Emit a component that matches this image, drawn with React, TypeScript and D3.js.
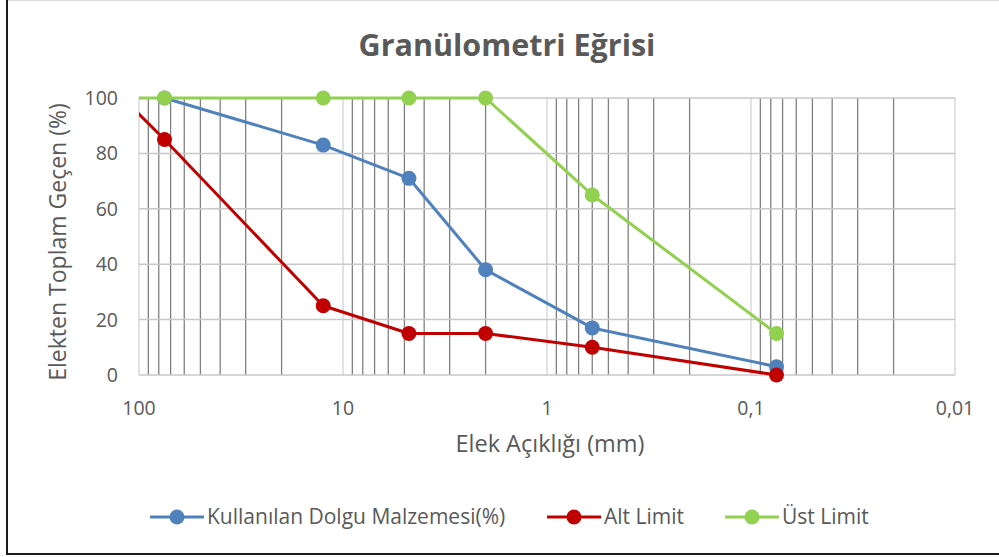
import React, { useRef, useEffect } from 'react'
import * as d3 from 'd3'

// elek açıklığı (mm) - ilk nokta grafiğin dışında kalıyor (kırpılıyor)
const sizes = [120, 75, 12.5, 4.75, 2, 0.6, 0.075]
const kullanilan = [null, 100, 83, 71, 38, 17, 3]
const altLimit = [100, 85, 25, 15, 15, 10, 0]
const ustLimit = [100, 100, 100, 100, 100, 65, 15]

const seriesNames = ['Kullanılan Dolgu Malzemesi(%)', 'Alt Limit', 'Üst Limit']
const seriesColors = ['#4f81bd', '#c00000', '#92d050']

const xTicks = [100, 10, 1, 0.1, 0.01]
const xTickLabels = ['100', '10', '1', '0,1', '0,01']
const yTicks = [0, 20, 40, 60, 80, 100]

export default function App() {
    const svgRef = useRef<SVGSVGElement>(null)
    const width = 999, height = 557
    const font = '"Open Sans", sans-serif'
    const textColor = '#595959'

    useEffect(() => {
        let svg = d3.select(svgRef.current)
        svg.selectAll('*').remove()

        let xScale = d3.scaleLog().domain([100, 0.01]).range([139, 955])
        let yScale = d3.scaleLinear().domain([0, 100]).range([375, 98])

        svg.append('rect').attr('width', width).attr('height', height).attr('fill', 'white')

        // çerçeve
        svg.append('line').attr('x1', 7).attr('x2', width).attr('y1', 0.5).attr('y2', 0.5)
            .attr('stroke', '#d9d9d9').attr('stroke-width', 1)
        svg.append('line').attr('x1', 7).attr('x2', 7).attr('y1', 0).attr('y2', 555)
            .attr('stroke', '#1a1a1a').attr('stroke-width', 2)
        svg.append('line').attr('x1', 6).attr('x2', width).attr('y1', 554).attr('y2', 554)
            .attr('stroke', '#1a1a1a').attr('stroke-width', 2)

        svg.append('text')
            .attr('x', 507).attr('y', 56)
            .attr('text-anchor', 'middle')
            .style('font-family', font).style('font-weight', 'bold').style('font-size', '30.5px')
            .attr('fill', textColor)
            .text('Granülometri Eğrisi')

        let clip = svg.append('clipPath').attr('id', 'plot-clip')
        clip.append('rect').attr('x', 139).attr('y', 90).attr('width', 816).attr('height', 295)

        // ara ızgara çizgileri (koyu)
        let minor = xScale.ticks().filter(d => !xTicks.some(t => Math.abs(t - d) < 1e-9))
        svg.append('g').selectAll('line').data(minor).enter().append('line')
            .attr('x1', d => xScale(d)).attr('x2', d => xScale(d))
            .attr('y1', yScale(0)).attr('y2', yScale(100))
            .attr('stroke', '#808080').attr('stroke-width', 1.3)

        // ana ızgara çizgileri (açık)
        svg.append('g').selectAll('line').data(xTicks).enter().append('line')
            .attr('x1', d => xScale(d)).attr('x2', d => xScale(d))
            .attr('y1', yScale(0)).attr('y2', yScale(100))
            .attr('stroke', '#d9d9d9').attr('stroke-width', 1.5)

        svg.append('g').selectAll('line').data(yTicks).enter().append('line')
            .attr('x1', xScale(100)).attr('x2', xScale(0.01))
            .attr('y1', d => yScale(d)).attr('y2', d => yScale(d))
            .attr('stroke', '#c8c8c8').attr('stroke-width', 1.5)

        svg.append('g').selectAll('text').data(yTicks).enter().append('text')
            .attr('x', 118).attr('y', d => yScale(d) + 7)
            .attr('text-anchor', 'end')
            .style('font-family', font).style('font-size', '19.5px')
            .attr('fill', textColor)
            .text(d => d)

        svg.append('g').selectAll('text').data(xTicks).enter().append('text')
            .attr('x', d => xScale(d)).attr('y', 415)
            .attr('text-anchor', 'middle')
            .style('font-family', font).style('font-size', '19.5px')
            .attr('fill', textColor)
            .text((d, i) => xTickLabels[i])

        svg.append('text')
            .attr('x', 550).attr('y', 452)
            .attr('text-anchor', 'middle')
            .style('font-family', font).style('font-size', '23.5px')
            .attr('fill', textColor)
            .text('Elek Açıklığı (mm)')

        svg.append('text')
            .attr('transform', 'translate(66, 242) rotate(-90)')
            .attr('text-anchor', 'middle')
            .style('font-family', font).style('font-size', '23px')
            .attr('fill', textColor)
            .text('Elekten Toplam Geçen (%)')

        let allSeries = [kullanilan, altLimit, ustLimit]
        let line = d3.line<any>()
            .defined(d => d.v != null)
            .x(d => xScale(d.s))
            .y(d => yScale(d.v))

        let plot = svg.append('g').attr('clip-path', 'url(#plot-clip)')
        allSeries.forEach((values, i) => {
            let pts = sizes.map((s, j) => ({ s: s, v: values[j] }))
            plot.append('path')
                .attr('d', line(pts))
                .attr('fill', 'none')
                .attr('stroke', seriesColors[i])
                .attr('stroke-width', 3)
                .attr('stroke-linejoin', 'round')
            plot.selectAll('circle.s' + i).data(pts.filter(d => d.v != null)).enter()
                .append('circle')
                .attr('class', 's' + i)
                .attr('cx', d => xScale(d.s)).attr('cy', d => yScale(d.v))
                .attr('r', 7.5)
                .attr('fill', seriesColors[i])
        })

        // lejant
        let legendX = [150, 547, 725]
        let legend = svg.append('g')
        seriesNames.forEach((name, i) => {
            let x0 = legendX[i]
            legend.append('line')
                .attr('x1', x0).attr('x2', x0 + 54).attr('y1', 517).attr('y2', 517)
                .attr('stroke', seriesColors[i]).attr('stroke-width', 3)
            legend.append('circle')
                .attr('cx', x0 + 27).attr('cy', 517).attr('r', 7.5)
                .attr('fill', seriesColors[i])
            legend.append('text')
                .attr('x', x0 + 57).attr('y', 524)
                .style('font-family', font).style('font-size', '21px')
                .attr('fill', textColor)
                .text(name)
        })
    }, [])

    return (
        <svg
            ref={svgRef}
            width={width}
            height={height}
            style={{ position: 'absolute', left: 0, top: 0, display: 'block' }}
        />
    )
}
